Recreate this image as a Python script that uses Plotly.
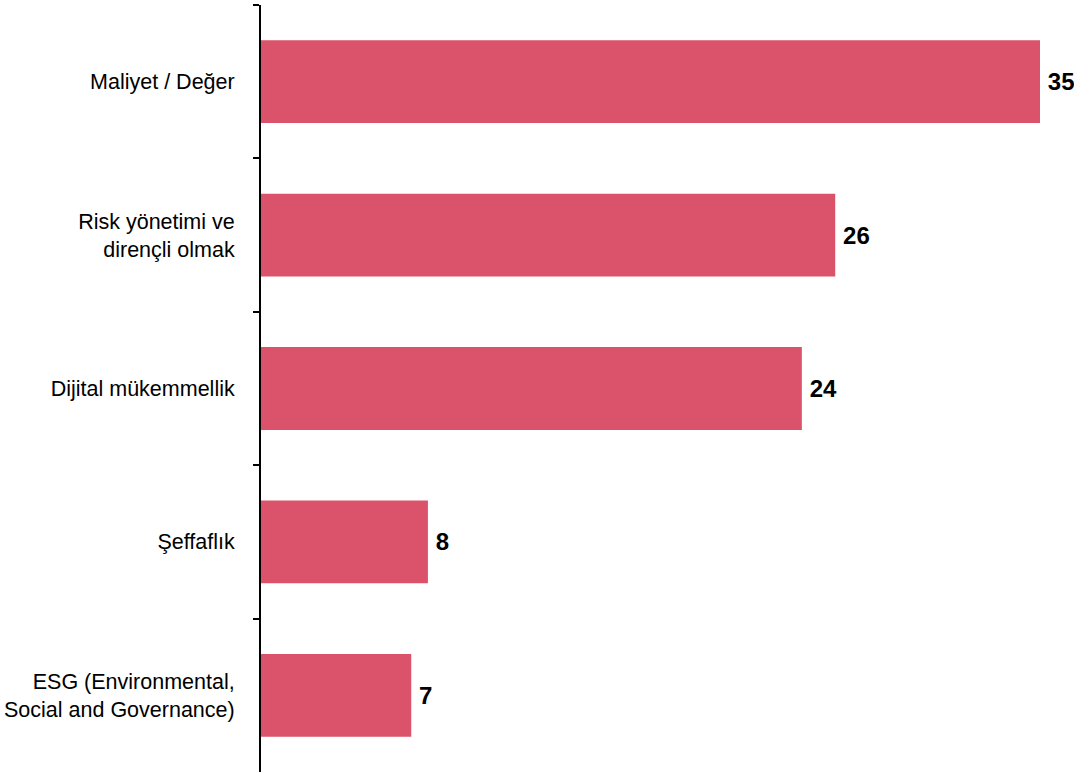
import plotly.graph_objects as go

categories = [
    "Maliyet / Değer",
    "Risk yönetimi ve<br>dirençli olmak",
    "Dijital mükemmellik",
    "Şeffaflık",
    "ESG (Environmental,<br>Social and Governance)",
]
values = [35.0, 25.8, 24.3, 7.5, 6.75]
labels = ["35", "26", "24", "8", "7"]

BAR_COLOR = "#DB536A"

fig = go.Figure(
    go.Bar(
        y=categories,
        x=values,
        orientation="h",
        marker=dict(color=BAR_COLOR, line=dict(width=0)),
        text=labels,
        texttemplate="\u2009%{text}",
        textposition="outside",
        textfont=dict(family="Liberation Sans, Arial, sans-serif", size=24, color="black", weight="bold"),
        cliponaxis=False,
        hoverinfo="skip",
    )
)

fig.update_layout(
    width=1074,
    height=775,
    margin=dict(l=261, r=34, t=5, b=3),
    paper_bgcolor="white",
    plot_bgcolor="white",
    bargap=0.46,
    showlegend=False,
    font=dict(family="Liberation Sans, Arial, sans-serif", color="black"),
    xaxis=dict(
        range=[0, 35],
        visible=False,
        showgrid=False,
        zeroline=False,
    ),
    yaxis=dict(
        autorange="reversed",
        categoryorder="array",
        categoryarray=categories,
        showline=True,
        linecolor="black",
        linewidth=2,
        ticks="outside",
        tickson="boundaries",
        ticklen=6,
        tickwidth=2,
        tickcolor="black",
        showgrid=False,
        zeroline=False,
        tickfont=dict(size=21.5, color="black"),
        ticklabelstandoff=20,
    ),
)

fig.write_html("out.html")
